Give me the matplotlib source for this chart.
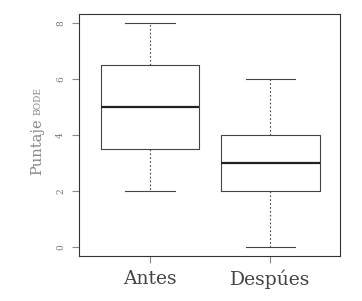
import matplotlib
matplotlib.use("Agg")
import matplotlib.pyplot as plt

groups = ["Antes", "Despúes"]
mins = [2, 0]
q1s = [3.5, 2]
medians = [5, 3]
q3s = [6.5, 4]
maxs = [8, 6]
yticks = [0, 2, 4, 6, 8]

plt.rcParams['font.family'] = ['DejaVu Serif']

fig = plt.figure(figsize=(3.62, 3.01), dpi=100)
ax = fig.add_axes([79 / 362, 45 / 301, 261 / 362, 242 / 301])

stats = []
for i, g in enumerate(groups):
    stats.append(dict(label=g, whislo=mins[i], q1=q1s[i], med=medians[i],
                      q3=q3s[i], whishi=maxs[i], fliers=[]))

ax.bxp(stats, positions=[1, 2], widths=0.82, showfliers=False,
       boxprops=dict(color="#444444", linewidth=0.8),
       medianprops=dict(color="#222222", linewidth=1.6),
       whiskerprops=dict(color="#444444", linewidth=0.8, linestyle=(0, (1.5, 2))),
       capprops=dict(color="#444444", linewidth=0.8),
       capwidths=0.41)

ax.set_xlim(0.41, 2.58)
ax.set_ylim(-0.32, 8.32)
ax.set_yticks(yticks)
ax.set_yticklabels([str(v) for v in yticks], rotation=90, va="center",
                   fontsize=6.5, color="#777777")
ax.tick_params(axis="y", length=5, color="#888888", width=0.8, pad=5)
ax.tick_params(axis="x", length=5, color="#888888", width=0.8, pad=5,
               labelsize=13.5, labelcolor="#444444")
for s in ax.spines.values():
    s.set_color("#333333")
    s.set_linewidth(0.8)

fig.text(37 / 362, 1 - 118 / 301, "Puntaje", rotation=90, ha="center",
         va="top", fontsize=10.5, color="#888888")
fig.text(38 / 362, 1 - 115 / 301, "BODE", rotation=90, ha="center",
         va="bottom", fontsize=6.5, color="#888888")

fig.savefig("out.png", dpi=100)
